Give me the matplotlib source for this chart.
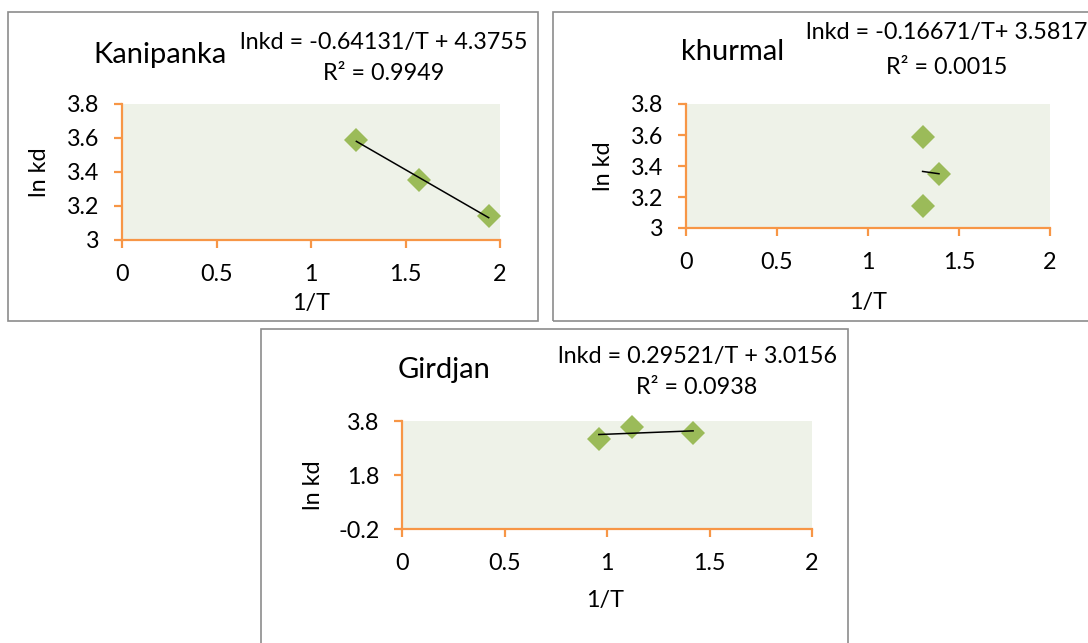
import matplotlib
matplotlib.use('Agg')
from matplotlib import pyplot as plt
from matplotlib.patches import Rectangle
from matplotlib.ticker import FuncFormatter

# ln kd measured at the three temperatures
ln_kd = [3.59, 3.35, 3.14]

# 1/T values for each site
kanipanka_inv_t = [1.24, 1.57, 1.94]
khurmal_inv_t = [1.30, 1.39, 1.30]
girdjan_inv_t = [1.12, 1.42, 0.96]

# linear trend lines (slope, intercept)
kanipanka_fit = (-0.64131, 4.3755)
khurmal_fit = (-0.16671, 3.5817)
girdjan_fit = (0.29521, 3.0156)

kanipanka_eq = ['lnkd = -0.64131/T + 4.3755', 'R² = 0.9949']
khurmal_eq = ['lnkd = -0.16671/T+ 3.5817', 'R² = 0.0015']
girdjan_eq = ['lnkd = 0.29521/T + 3.0156', 'R² = 0.0938']

x_ticks = [0, 0.5, 1, 1.5, 2]
y_ticks_narrow = [3, 3.2, 3.4, 3.6, 3.8]
y_ticks_wide = [-0.2, 1.8, 3.8]

W, H = 1088, 643
ORANGE = '#F79646'
GREEN = '#9BBB59'
FILL = '#EEF2E8'
FS = 16.8

plt.rcParams['font.family'] = ['Lato', 'DejaVu Sans']


def fx(px):
    return px / W


def fy(py):
    return 1 - py / H


def panel(fig, name, inv_t, fit, eq, yticks, ax_px, border_px, title_px,
          eq_px, xlab_px, ylab_px):
    x0, y0, x1, y1 = border_px
    fig.add_artist(Rectangle((fx(x0), fy(y1)), fx(x1 - x0), (y1 - y0) / H,
                             transform=fig.transFigure, fill=False,
                             edgecolor='#8C8C8C', linewidth=1.2))

    a0, b0, a1, b1 = ax_px
    ax = fig.add_axes([fx(a0), fy(b1), fx(a1 - a0), (b1 - b0) / H])
    ax.set_facecolor(FILL)
    ax.set_xlim(x_ticks[0], x_ticks[-1])
    ax.set_ylim(yticks[0], yticks[-1])
    ax.set_xticks(x_ticks)
    ax.set_yticks(yticks)
    ax.xaxis.set_major_formatter(FuncFormatter(lambda v, p: '{:g}'.format(v)))
    ax.yaxis.set_major_formatter(FuncFormatter(lambda v, p: '{:g}'.format(v)))
    for s in ['top', 'right']:
        ax.spines[s].set_visible(False)
    for s in ['left', 'bottom']:
        ax.spines[s].set_color(ORANGE)
        ax.spines[s].set_linewidth(1.6)
    ax.tick_params(axis='both', colors=ORANGE, width=1.6, length=6,
                   direction='out', labelcolor='black', labelsize=FS)
    ax.tick_params(axis='x', pad=11)
    ax.tick_params(axis='y', pad=10)

    # data points and trend line
    ax.plot(inv_t, ln_kd, 'D', color=GREEN, markersize=12.5,
            markeredgewidth=0, clip_on=False, zorder=3)
    lo, hi = min(inv_t), max(inv_t)
    slope, icept = fit
    ax.plot([lo, hi], [slope * lo + icept, slope * hi + icept],
            color='black', linewidth=1.1, zorder=4)

    ax.set_xlabel('1/T', fontsize=FS, va='center')
    ax.xaxis.set_label_coords(fx(xlab_px[0]), fy(xlab_px[1]),
                              transform=fig.transFigure)
    ax.set_ylabel('ln kd', fontsize=FS, va='center')
    ax.yaxis.set_label_coords(fx(ylab_px[0]), fy(ylab_px[1]),
                              transform=fig.transFigure)

    fig.text(fx(title_px[0]), fy(title_px[1]), name, fontsize=21,
             ha='center', va='center')
    fig.text(fx(eq_px[0]), fy(eq_px[1]), eq[0], fontsize=FS,
             ha='center', va='center')
    fig.text(fx(eq_px[0]), fy(eq_px[2]), eq[1], fontsize=FS,
             ha='center', va='center')
    return ax


def main():
    fig = plt.figure(figsize=(W / 100, H / 100), dpi=100)

    panel(fig, 'Kanipanka', kanipanka_inv_t, kanipanka_fit, kanipanka_eq,
          y_ticks_narrow, (122, 104, 500, 240), (8, 12, 538, 321),
          (160, 55), (384, 42, 73), (311, 303), (40, 172))
    panel(fig, 'khurmal', khurmal_inv_t, khurmal_fit, khurmal_eq,
          y_ticks_narrow, (686, 104, 1050, 228), (553, 12, 1100, 321),
          (733, 52), (947, 33, 68), (868, 302), (603, 166))
    panel(fig, 'Girdjan', girdjan_inv_t, girdjan_fit, girdjan_eq,
          y_ticks_wide, (402, 421, 812, 529), (261, 329, 848, 660),
          (444, 370), (697, 357, 388), (605, 601), (313, 485))

    fig.savefig('out.png', dpi=100, facecolor='white')


if __name__ == '__main__':
    main()
